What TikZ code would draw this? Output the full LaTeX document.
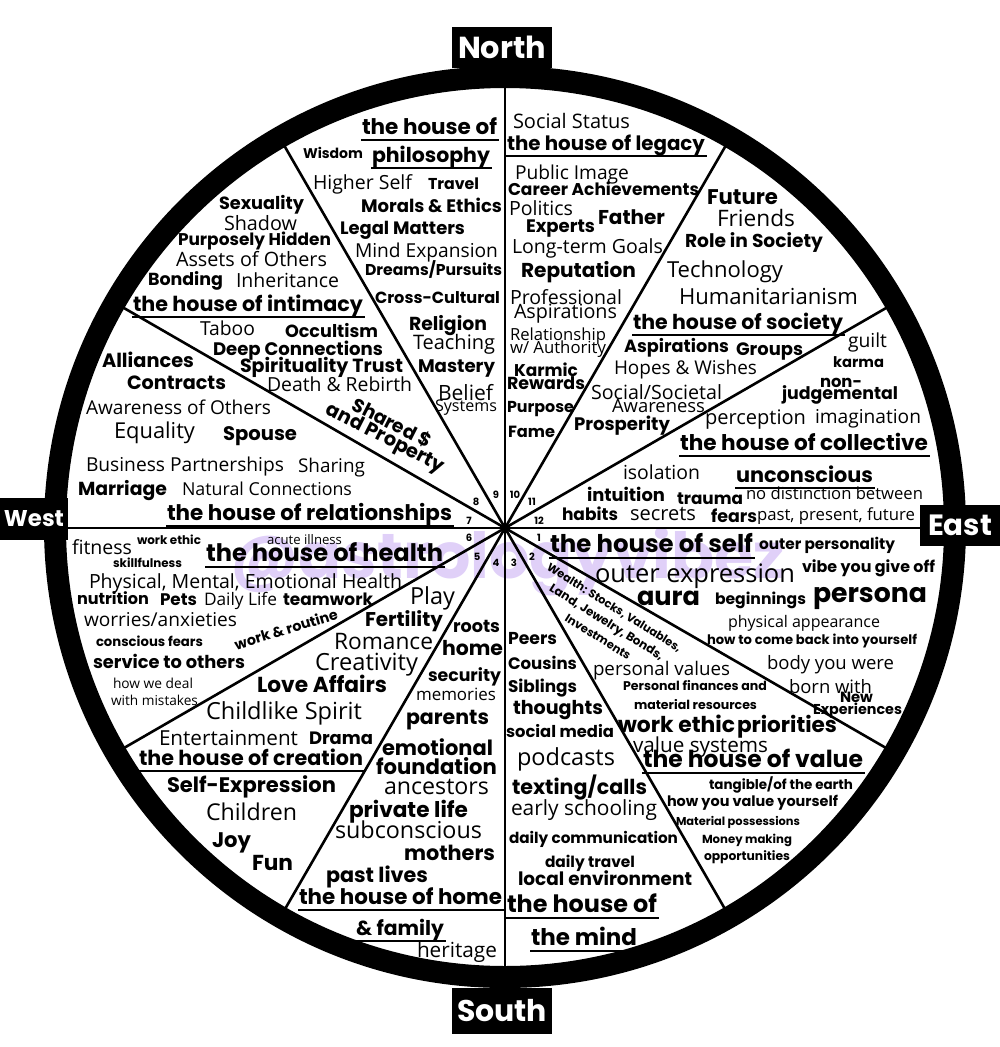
\documentclass[tikz,border=0pt]{standalone}
\usepackage{fontspec}
\setmainfont{Open Sans}
\newfontfamily\pop{Poppins}
\newlength\myfw
\newcounter{tn}
\newcommand\fitt[3]{\settowidth\myfw{#2\fontsize{10pt}{12pt}\selectfont #3}\pgfmathsetmacro\myfs{10*#1/\myfw}#2\fontsize{\myfs pt}{\myfs pt}\selectfont #3}
\tikzset{
  txt/.style={anchor=base west, inner sep=0pt, outer sep=0pt, yshift=-2pt},
  ul/.style={line width=1.8pt},
  spoke/.style={line width=2.6pt},
  lab/.style={fill=black, text=white, inner sep=0pt},
  num/.style={inner sep=0pt, font=\pop\bfseries\fontsize{10pt}{10pt}\selectfont},
  wm/.style={anchor=base west, inner sep=0pt, text={rgb,255:red,224;green,208;blue,248}}
}
\newcommand\Treg[4]{\stepcounter{tn}\pgfmathsetmacro\tw{#2-#1}\node[txt] (t\arabic{tn}) at (#1,#3) {\fitt{\tw}{\normalfont}{#4}};}
\newcommand\Tbold[4]{\stepcounter{tn}\pgfmathsetmacro\tw{#2-#1}\node[txt] (t\arabic{tn}) at (#1,#3) {\fitt{\tw}{\pop\bfseries}{#4}};}
\newcommand\Tul[4]{\Tbold{#1}{#2}{#3}{#4}\draw[ul] ([xshift=-1pt,yshift=-6pt]t\arabic{tn}.base west) -- ([xshift=2pt,yshift=-6pt]t\arabic{tn}.base east);}
\newcommand\Trot[5]{\stepcounter{tn}\node[inner sep=0pt, rotate=#3] (t\arabic{tn}) at (#1,#2) {\fitt{#4}{\pop\bfseries}{#5}};}
\begin{document}
\begin{tikzpicture}[x=1pt,y=-1pt]
\useasboundingbox (0,0) rectangle (1000,1047);
\coordinate (c) at (505,528);
% watermark
\node[wm] (wmark) at (230,578) {\fitt{555}{\pop\bfseries}{@astrologyvibez}};
% spokes
\foreach \a in {0,30,...,330} \draw[spoke] (c) -- ++(\a:442);
\fill (c) circle (4);
% ring
\draw[line width=22pt] (505,527) circle[radius=450];
% compass labels
\node[lab, minimum width=100pt, minimum height=41pt] (north) at (502,47.5) {\fitt{88}{\pop\bfseries}{North}};
\node[lab, minimum width=100pt, minimum height=46pt] (south) at (502,1011) {\fitt{90}{\pop\bfseries}{South}};
\node[lab, minimum width=68pt, minimum height=42pt] (west) at (34,519) {\fitt{60}{\pop\bfseries}{West}};
\node[lab, minimum width=80pt, minimum height=41pt] (east) at (960,525.5) {\fitt{64}{\pop\bfseries}{East}};
% house numbers
\node[num] (n1) at (539,538) {1};
\node[num] (n2) at (532,557) {2};
\node[num] (n3) at (514,563) {3};
\node[num] (n4) at (496,563) {4};
\node[num] (n5) at (477,557) {5};
\node[num] (n6) at (469,538) {6};
\node[num] (n7) at (469,521) {7};
\node[num] (n8) at (476,502) {8};
\node[num] (n9) at (496,495) {9};
\node[num] (n10) at (515,495) {10};
\node[num] (n11) at (532,502) {11};
\node[num] (n12) at (539,521) {12};
% house 9
\Tul{362}{497}{132}{the house of}
\Tul{372}{490}{160}{philosophy}
\Tbold{303}{363}{156}{Wisdom}
\Treg{313}{412}{187}{Higher Self}
\Tbold{428}{479}{187}{Travel}
\Tbold{361}{502}{210}{Morals \& Ethics}
\Tbold{340}{465}{232}{Legal Matters}
\Treg{355}{498}{255}{Mind Expansion}
\Tbold{365}{502}{273}{Dreams/Pursuits}
\Tbold{375}{500}{301}{Cross-Cultural}
\Tbold{409}{487}{328}{Religion}
\Treg{413}{495}{347}{Teaching}
\Tbold{418}{495}{370}{Mastery}
\Treg{438}{493}{398}{Belief}
\Treg{435}{497}{409}{Systems}
% house 10
\Treg{513}{630}{126}{Social Status}
\Tul{507}{705}{148}{the house of legacy}
\Treg{515}{629}{177}{Public Image}
\Tbold{508}{699}{193}{Career Achievements}
\Treg{509}{573}{213}{Politics}
\Tbold{598}{665}{222}{Father}
\Tbold{526}{595}{230}{Experts}
\Treg{512}{663}{251}{Long-term Goals}
\Tbold{521}{636}{275}{Reputation}
\Treg{510}{622}{302}{Professional}
\Treg{514}{617}{316}{Aspirations}
\Treg{510}{606}{338}{Relationship}
\Treg{510}{606}{351}{w/ Authority}
\Tbold{514}{578}{374}{Karmic}
\Tbold{507}{585}{387}{Rewards}
\Tbold{507}{574}{410}{Purpose}
\Tbold{508}{555}{435}{Fame}
% house 11
\Tbold{707}{778}{202}{Future}
\Treg{717}{795}{224}{Friends}
\Tbold{685}{823}{245}{Role in Society}
\Treg{667}{783}{275}{Technology}
\Treg{679}{858}{302}{Humanitarianism}
\Tul{633}{843}{327}{the house of society}
\Tbold{624}{729}{350}{Aspirations}
\Tbold{736}{803}{353}{Groups}
\Treg{614}{757}{372}{Hopes \& Wishes}
\Treg{591}{722}{397}{Social/Societal}
\Treg{612}{705}{410}{Awareness}
\Tbold{574}{670}{428}{Prosperity}
% house 12
\Treg{848}{887}{345}{guilt}
\Tbold{833}{884}{365}{karma}
\Tbold{820}{862}{385}{non-}
\Tbold{782}{898}{397}{judgemental}
\Treg{705}{806}{422}{perception}
\Treg{815}{921}{421}{imagination}
\Tul{680}{928}{448}{the house of collective}
\Treg{623}{700}{477}{isolation}
\Tul{736}{873}{480}{unconscious}
\Tbold{587}{665}{499}{intuition}
\Tbold{677}{743}{502}{trauma}
\Treg{746}{923}{497}{no distinction between}
\Tbold{562}{618}{518}{habits}
\Treg{630}{696}{518}{secrets}
\Tbold{711}{757}{520}{fears}
\Treg{757}{915}{518}{past, present, future}
% house 8
\Tbold{219}{304}{207}{Sexuality}
\Treg{224}{297}{228}{Shadow}
\Tbold{178}{331}{243}{Purposely Hidden}
\Treg{176}{327}{264}{Assets of Others}
\Tbold{148}{223}{283}{Bonding}
\Treg{236}{339}{285}{Inheritance}
\Tul{133}{363}{309}{the house of intimacy}
\Treg{200}{255}{333}{Taboo}
\Tbold{285}{378}{335}{Occultism}
\Tbold{213}{383}{353}{Deep Connections}
\Tbold{240}{403}{370}{Spirituality Trust}
\Treg{267}{412}{389}{Death \& Rebirth}
\Trot{392}{423}{-27}{86}{Shared \$}
\Trot{385}{439}{-27}{130}{and Property}
% house 7
\Tbold{102}{194}{365}{Alliances}
\Tbold{127}{226}{387}{Contracts}
\Treg{86}{271}{412}{Awareness of Others}
\Treg{114}{195}{436}{Equality}
\Tbold{223}{297}{438}{Spouse}
\Treg{86}{284}{469}{Business Partnerships}
\Treg{298}{365}{470}{Sharing}
\Tbold{78}{167}{493}{Marriage}
\Treg{182}{352}{493}{Natural Connections}
\Tul{167}{452}{518}{the house of relationships}
% house 6
\Treg{72}{132}{552}{fitness}
\Tbold{137}{201}{542}{work ethic}
\Treg{267}{342}{542}{acute illness}
\Tul{206}{443}{559}{the house of health}
\Tbold{113}{182}{565}{skillfulness}
\Treg{89}{402}{586}{Physical, Mental, Emotional Health}
\Tbold{77}{149}{602}{nutrition}
\Tbold{160}{197}{603}{Pets}
\Treg{204}{277}{603}{Daily Life}
\Tbold{283}{373}{603}{teamwork}
\Treg{84}{237}{624}{worries/anxieties}
\Tbold{96}{203}{644}{conscious fears}
\Tbold{93}{245}{666}{service to others}
\Treg{113}{193}{686}{how we deal}
\Treg{111}{198}{703}{with mistakes}
\Trot{286}{629}{17}{107}{work \& routine}
% house 5
\Treg{410}{455}{602}{Play}
\Tbold{365}{443}{624}{Fertility}
\Treg{334}{433}{647}{Romance}
\Treg{315}{418}{668}{Creativity}
\Tbold{257}{387}{690}{Love Affairs}
\Treg{206}{362}{717}{Childlike Spirit}
\Treg{159}{298}{743}{Entertainment}
\Tbold{309}{373}{742}{Drama}
\Tul{139}{363}{763}{the house of creation}
\Tbold{167}{336}{790}{Self-Expression}
\Treg{206}{297}{818}{Children}
\Tbold{212}{251}{845}{Joy}
\Tbold{252}{293}{868}{Fun}
% house 4
\Tbold{453}{500}{630}{roots}
\Tbold{442}{503}{653}{home}
\Tbold{428}{501}{679}{security}
\Treg{416}{496}{698}{memories}
\Tbold{406}{489}{722}{parents}
\Tbold{382}{493}{753}{emotional}
\Tbold{376}{497}{772}{foundation}
\Treg{384}{489}{792}{ancestors}
\Tbold{349}{468}{815}{private life}
\Treg{335}{482}{836}{subconscious}
\Tbold{404}{495}{858}{mothers}
\Tbold{326}{428}{880}{past lives}
\Tul{299}{502}{902}{the house of home}
\Tul{356}{444}{933}{\& family}
\Treg{417}{497}{955}{heritage}
% house 3
\Tbold{508}{557}{642}{Peers}
\Tbold{508}{577}{667}{Cousins}
\Tbold{508}{577}{690}{Siblings}
\Tbold{513}{603}{712}{thoughts}
\Tbold{506}{614}{735}{social media}
\Treg{517}{615}{763}{podcasts}
\Tbold{512}{647}{792}{texting/calls}
\Treg{511}{657}{813}{early schooling}
\Tbold{509}{678}{841}{daily communication}
\Tbold{545}{635}{865}{daily travel}
\Tbold{518}{692}{883}{local environment}
\Tul{507}{657}{910}{the house of}
\Tul{531}{637}{943}{the mind}
% house 2
\Trot{614}{608}{-32}{156}{Wealth: Stocks, Valuables,}
\Trot{606}{623}{-32}{132}{Land, Jewelry, Bonds,}
\Trot{598}{637}{-32}{75}{Investments}
\Treg{593}{730}{673}{personal values}
\Tbold{623}{767}{688}{Personal finances and}
\Tbold{634}{757}{707}{material resources}
\Tbold{618}{735}{730}{work ethic}
\Tbold{737}{837}{730}{priorities}
\Treg{633}{768}{750}{value systems}
\Tul{643}{863}{765}{the house of value}
\Tbold{709}{853}{787}{tangible/of the earth}
\Tbold{667}{838}{804}{how you value yourself}
\Tbold{676}{800}{823}{Material possessions}
\Tbold{702}{792}{841}{Money making}
\Tbold{704}{790}{858}{opportunities}
% house 1
\Tul{550}{753}{550}{the house of self}
\Tbold{759}{895}{547}{outer personality}
\Treg{595}{795}{580}{outer expression}
\Tbold{802}{935}{570}{vibe you give off}
\Tbold{637}{700}{603}{aura}
\Tbold{715}{806}{602}{beginnings}
\Tbold{813}{927}{600}{persona}
\Treg{728}{880}{625}{physical appearance}
\Tbold{707}{917}{642}{how to come back into yourself}
\Treg{767}{894}{667}{body you were}
\Treg{789}{872}{691}{born with}
\Tbold{840}{873}{700}{New}
\Tbold{813}{902}{712}{Experiences}
\end{tikzpicture}
\end{document}
